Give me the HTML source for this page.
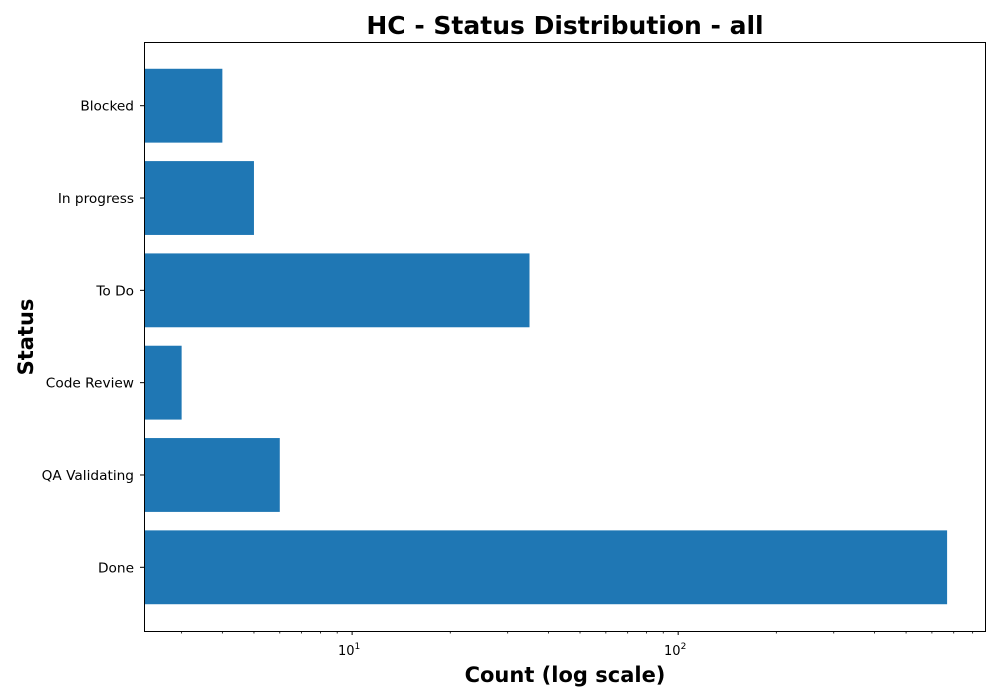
<!DOCTYPE html>
<html><head><meta charset="utf-8"><style>
body{margin:0;background:#fff;}
svg{display:block;font-family:"DejaVu Sans","Liberation Sans",sans-serif;}
</style></head><body>
<svg id="chart" width="1000" height="700">
<rect width="1000" height="700" fill="#fff"/>
<text x="565" y="34" text-anchor="middle" font-size="25" font-weight="bold">HC - Status Distribution - all</text>
<text x="565" y="682" text-anchor="middle" font-size="21" font-weight="bold">Count (log scale)</text>
<text transform="translate(33,337) rotate(-90)" text-anchor="middle" font-size="21" font-weight="bold">Status</text>
<g id="bars"></g>
<g id="ticks"></g>
<rect x="144.5" y="42.5" width="841" height="589" fill="none" stroke="#000" stroke-width="1"/>
</svg>
<script>
const categories = ["Done","QA Validating","Code Review","To Do","In progress","Blocked"];
const counts = [668, 6, 3, 35, 5, 4];
const majorTicks = [10, 100];
const majorLabels = ["1", "2"];
const minorTicks = [3,4,5,6,7,8,9,20,30,40,50,60,70,80,90,200,300,400,500,600,700,800];

const L=144, R=985, T=42, B=631;
const xmin=Math.log10(2.3), xmax=Math.log10(873);
const x=v=>L+(Math.log10(v)-xmin)/(xmax-xmin)*(R-L);
const ymin=-0.69, ymax=5.69;
const y=i=>B-(i-ymin)/(ymax-ymin)*(B-T);
const NS="http://www.w3.org/2000/svg";
const bars=document.getElementById('bars'), ticks=document.getElementById('ticks');
function mk(tag,attrs,parent){const e=document.createElementNS(NS,tag);for(const k in attrs)e.setAttribute(k,attrs[k]);parent.appendChild(e);return e;}
const bw=0.8*(B-T)/(ymax-ymin);
categories.forEach((c,i)=>{
  const r=mk('rect',{x:L,y:y(i)-bw/2,width:x(counts[i])-L,height:bw,fill:'#1f77b4'},bars);
  
  
  mk('line',{x1:L-4,x2:L,y1:y(i),y2:y(i),stroke:'#000'},ticks);
  const t=mk('text',{x:L-10,y:y(i)+5,'text-anchor':'end','font-size':13.7},ticks);
  t.textContent=c;
  
  
});
majorTicks.forEach((v,i)=>{
  const px=x(v);
  mk('line',{x1:px,x2:px,y1:B,y2:B+4,stroke:'#000'},ticks);
  const t=mk('text',{x:px-3,y:B+24,'text-anchor':'middle','font-size':13},ticks);
  
  
  t.appendChild(document.createTextNode('10'));
  const s=mk('tspan',{dy:-6,'font-size':9},t);s.textContent=majorLabels[i];
});
minorTicks.forEach(v=>{const px=x(v);mk('line',{x1:px,x2:px,y1:B,y2:B+2.5,stroke:'#000','stroke-width':0.8},ticks);});
</script>
</body></html>
